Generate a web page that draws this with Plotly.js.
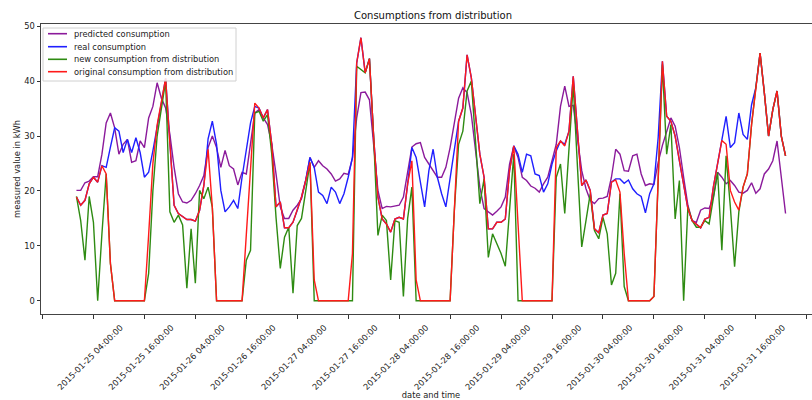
<!DOCTYPE html>
<html>
<head>
<meta charset="utf-8">
<script src="https://cdn.plot.ly/plotly-3.0.1.min.js"></script>
<style>
html,body{margin:0;padding:0;overflow:hidden;background:#fff;}
#chart{width:830px;height:400px;}
</style>
</head>
<body>
<div id="chart"></div>
<script>
// Hourly readings, 2015-01-25 00:00 .. 2015-01-31 23:00
const START_DAY = [2015, 0, 25];
const N_HOURS = 168;

const predicted = [
20.1,20.1,21.5,21.8,22.6,22.6,26.7,32.4,34.2,31.5,26.7,28.5,29.4,25.2,25.5,29.1,27.9,33.3,35.4,39.7,36.9,35.1,30.3,24.3,
19.5,18.0,17.8,18.3,19.5,21.0,22.8,27.9,30.0,27.9,24.3,27.4,24.6,24.0,21.1,23.4,23.1,28.5,34.2,34.8,33.3,32.1,28.5,23.1,
17.1,15.0,15.0,16.5,17.4,18.6,21.9,26.1,24.3,25.5,24.6,24.0,23.1,21.8,22.2,23.2,23.0,26.0,33.3,37.9,38.0,36.6,28.5,20.1,
16.8,17.2,17.1,17.2,17.4,18.9,23.1,28.0,28.6,28.8,26.1,24.9,23.7,22.5,22.5,24.3,27.9,32.7,36.9,38.8,37.9,33.9,26.7,20.7,
16.8,16.2,15.6,16.3,17.1,18.9,24.9,28.2,26.1,22.5,21.9,20.9,20.5,19.8,21.3,22.5,25.5,28.5,35.4,39.1,35.4,35.6,29.5,23.7,
20.4,18.3,17.7,18.6,18.7,19.0,22.5,27.6,26.7,23.7,23.6,26.4,26.7,23.1,21.0,21.3,21.2,25.2,28.3,30.9,33.3,31.8,27.9,22.5,
17.4,14.6,14.3,16.5,16.9,16.8,18.9,23.4,22.5,21.3,21.9,21.0,19.8,19.6,20.1,21.5,19.6,20.4,23.1,24.0,25.5,29.1,22.5,15.9
];

const real = [
18.9,17.4,18.3,21.3,22.5,21.6,24.6,24.3,28.0,31.5,30.9,27.0,29.4,27.0,29.7,27.0,22.5,23.4,27.3,32.0,36.0,40.5,28.7,17.4,
15.9,15.3,14.8,14.8,14.5,16.5,21.0,29.5,32.7,28.5,20.1,16.2,17.1,18.3,16.8,22.5,27.9,32.4,35.4,35.1,33.3,34.8,28.5,17.1,
18.0,13.3,13.3,14.3,16.5,18.9,22.0,26.1,24.3,19.8,19.2,17.7,20.7,19.8,17.7,19.5,22.5,26.1,43.3,47.9,41.5,44.1,29.7,18.9,
14.9,14.0,12.5,14.9,15.2,14.9,21.3,27.9,26.1,21.9,17.1,23.7,27.6,22.5,19.5,17.1,22.5,27.6,32.7,35.1,44.8,40.6,33.3,26.7,
22.5,13.1,13.1,14.3,14.3,14.9,23.7,28.2,26.7,23.4,26.7,26.4,23.1,22.8,19.8,21.3,24.9,27.3,29.1,28.5,30.9,40.9,30.9,21.0,
22.0,20.1,13.1,12.4,15.6,15.9,21.6,22.2,22.2,21.4,22.0,20.4,19.5,19.0,16.0,19.5,21.3,29.7,43.6,33.6,32.7,30.0,25.5,21.3,
16.8,14.6,13.9,13.3,14.9,15.2,20.7,24.9,29.4,33.6,27.9,28.8,34.2,30.3,29.4,35.7,38.8,45.1,37.9,30.0,34.8,38.2,30.0,26.4
];

const newDist = [
19.0,14.6,7.4,19.0,14.3,0,12.2,23.1,6.8,0,0,0,0,0,0,0,0,5.0,20.0,30.0,35.0,40.0,16.2,14.3,
15.6,13.8,2.3,13.1,3.2,20.1,18.6,20.7,17.0,0,0,0,0,0,0,0,7.4,9.2,34.2,34.5,32.7,33.9,26.7,15.2,
5.9,11.6,13.4,1.4,13.7,15.0,20.0,25.2,0,0,0,0,0,0,0,0,0,0,42.7,42.1,41.5,44.1,29.7,11.9,
15.6,14.6,3.8,14.6,14.3,0.8,15.0,20.7,0,0,0,0,0,0,0,0,0,16.5,28.5,30.9,38.2,40.0,29.7,17.7,
22.2,7.9,12.2,10.4,8.6,6.3,17.0,26.7,0,0,0,0,0,0,0,0,0,22.5,24.9,15.9,27.9,39.4,24.3,9.8,
14.6,19.5,12.8,11.3,15.2,12.2,2.9,5.0,19.5,2.6,0,0,0,0,0,0,0.8,22.0,43.0,26.7,32.1,14.9,21.9,0,
17.1,14.6,13.4,13.4,14.6,14.0,19.0,23.4,9.2,26.4,17.1,6.2,16.2,20.7,23.1,32.1,38.8,45.1,37.9,30.0,34.8,38.2,30.0,26.4
];

const originalDist = [
18.9,17.4,18.3,21.3,22.5,21.6,24.6,23.1,6.8,0,0,0,0,0,0,0,0,12.0,25.0,32.0,36.0,40.5,28.7,17.4,
15.9,15.3,14.8,14.8,14.5,16.5,21.0,27.6,17.0,0,0,0,0,0,0,0,12.0,24.0,36.0,35.1,33.3,34.8,28.5,17.1,
18.0,13.3,13.3,14.3,16.5,18.9,21.9,25.2,3.8,0,0,0,0,0,0,0,0,8.6,43.3,47.9,41.5,44.1,29.7,18.9,
14.9,14.0,12.5,14.9,15.2,14.9,21.3,25.5,3.8,0,0,0,0,0,0,0,0,16.5,32.7,35.1,44.8,40.6,33.3,26.7,
22.5,13.1,13.1,14.3,14.3,14.9,23.7,28.2,14.0,0,0,0,0,0,0,0,0,27.9,29.1,28.2,30.9,40.9,30.9,21.0,
22.0,20.1,13.1,12.4,15.6,15.9,21.6,22.0,19.8,8.6,0,0,0,0,0,0,0.8,22.0,43.6,33.6,32.7,30.0,25.5,21.3,
16.8,14.6,13.9,13.3,14.9,15.2,20.7,24.9,29.2,28.5,20.1,18.0,16.5,20.7,23.1,32.1,38.8,45.1,37.9,30.0,34.8,38.2,30.0,26.4
];

const tickLabels = [
'2015-01-25 04:00:00','2015-01-25 16:00:00','2015-01-26 04:00:00','2015-01-26 16:00:00',
'2015-01-27 04:00:00','2015-01-27 16:00:00','2015-01-28 04:00:00','2015-01-28 16:00:00',
'2015-01-29 04:00:00','2015-01-29 16:00:00','2015-01-30 04:00:00','2015-01-30 16:00:00',
'2015-01-31 04:00:00','2015-01-31 16:00:00'
];
const tickEnds = ['2015-01-24 16:00:00', '2015-02-01 04:00:00'];
const yTicks = [0, 10, 20, 30, 40, 50];

const seriesNames = ['predicted consumption','real consumption','new consumption from distribution','original consumption from distribution'];
const seriesColors = ['#8b1a9b','#1f1fff','#2e8b12','#ff1a1a'];

function pad(n){return (n<10?'0':'')+n;}
const times = [];
for (let h = 0; h < N_HOURS; h++) {
  const d = new Date(Date.UTC(START_DAY[0], START_DAY[1], START_DAY[2], h));
  times.push(d.getUTCFullYear()+'-'+pad(d.getUTCMonth()+1)+'-'+pad(d.getUTCDate())+' '+pad(d.getUTCHours())+':00:00');
}

const allSeries = [predicted, real, newDist, originalDist];
const traces = allSeries.map((ys, i) => ({
  type: 'scatter', mode: 'lines', x: times, y: ys, name: seriesNames[i],
  line: {color: seriesColors[i], width: 1.4}, showlegend: false, hoverinfo: 'x+y+name'
}));

const FONT = 'DejaVu Sans, Verdana, sans-serif';
const L = 41, R = 9, T = 24, B = 86, W = 830, H = 400;
const PW = W - L - R, PH = H - T - B;
const px = x => (x - L) / PW;
const py = y => (T + PH - y) / PH;

const shapes = [];
const annotations = [];
// legend box
(function(){
  const x0 = px(43), x1 = px(236), y0 = py(81), y1 = py(28);
  shapes.push({type:'rect', xref:'paper', yref:'paper', x0:x0, x1:x1, y0:y0, y1:y1,
    fillcolor:'rgba(255,255,255,0.85)', line:{color:'#d0d0d0', width:1}, layer:'above'});
})();
const rowY = [33.7, 46.7, 59.3, 71.7];
seriesNames.forEach((nm, i) => {
  shapes.push({type:'line', xref:'paper', yref:'paper', x0:px(48), x1:px(67), y0:py(rowY[i]), y1:py(rowY[i]),
    line:{color:seriesColors[i], width:1.6}, layer:'above'});
  annotations.push({xref:'paper', yref:'paper', x:px(72), y:py(rowY[i]), xanchor:'left', yanchor:'middle',
    text: nm, showarrow:false, font:{family:FONT, size:8.3, color:'#222'}});
});

const layout = {
  width: W, height: H,
  margin: {l: L, r: R, t: T, b: B, pad: 0},
  paper_bgcolor: '#fff', plot_bgcolor: '#fff',
  font: {family: FONT, size: 8.3, color: '#222'},
  title: {text: 'Consumptions from distribution', x: (433 - L) / PW, xref: 'paper', xanchor: 'center',
          y: 1 - 15 / H, yref: 'container', yanchor: 'middle', font: {family: FONT, size: 10, color: '#111'}},
  xaxis: {
    type: 'date', range: ['2015-01-24 15:39:00', '2015-02-01 07:21:00'],
    tickmode: 'array', tickvals: [tickEnds[0]].concat(tickLabels, [tickEnds[1]]),
    ticktext: [''].concat(tickLabels, ['']),
    tickangle: -45, ticklabelshift: 27, ticklabelstandoff: 1,
    ticks: 'outside', ticklen: 3.5, tickwidth: 1, tickcolor: '#333',
    showline: true, linecolor: '#444', linewidth: 1, mirror: true,
    showgrid: false, zeroline: false, automargin: false,
    tickfont: {family: FONT, size: 8.3, color: '#222'},
    title: {text: 'date and time', font: {family: FONT, size: 8.3, color: '#222'}, standoff: 2}
  },
  yaxis: {
    range: [-2.4, 50.4], tickmode: 'array', tickvals: yTicks, ticktext: yTicks.map(String),
    ticks: 'outside', ticklen: 3.5, tickwidth: 1, tickcolor: '#333',
    showline: true, linecolor: '#444', linewidth: 1, mirror: true,
    showgrid: false, zeroline: false, automargin: false,
    tickfont: {family: FONT, size: 8.3, color: '#222'},
    title: {text: 'measured value in kWh', font: {family: FONT, size: 8.3, color: '#222'}, standoff: 2}
  },
  shapes: shapes,
  annotations: annotations,
  showlegend: false
};

Plotly.newPlot('chart', traces, layout, {displayModeBar: false, staticPlot: true});
</script>
</body>
</html>
